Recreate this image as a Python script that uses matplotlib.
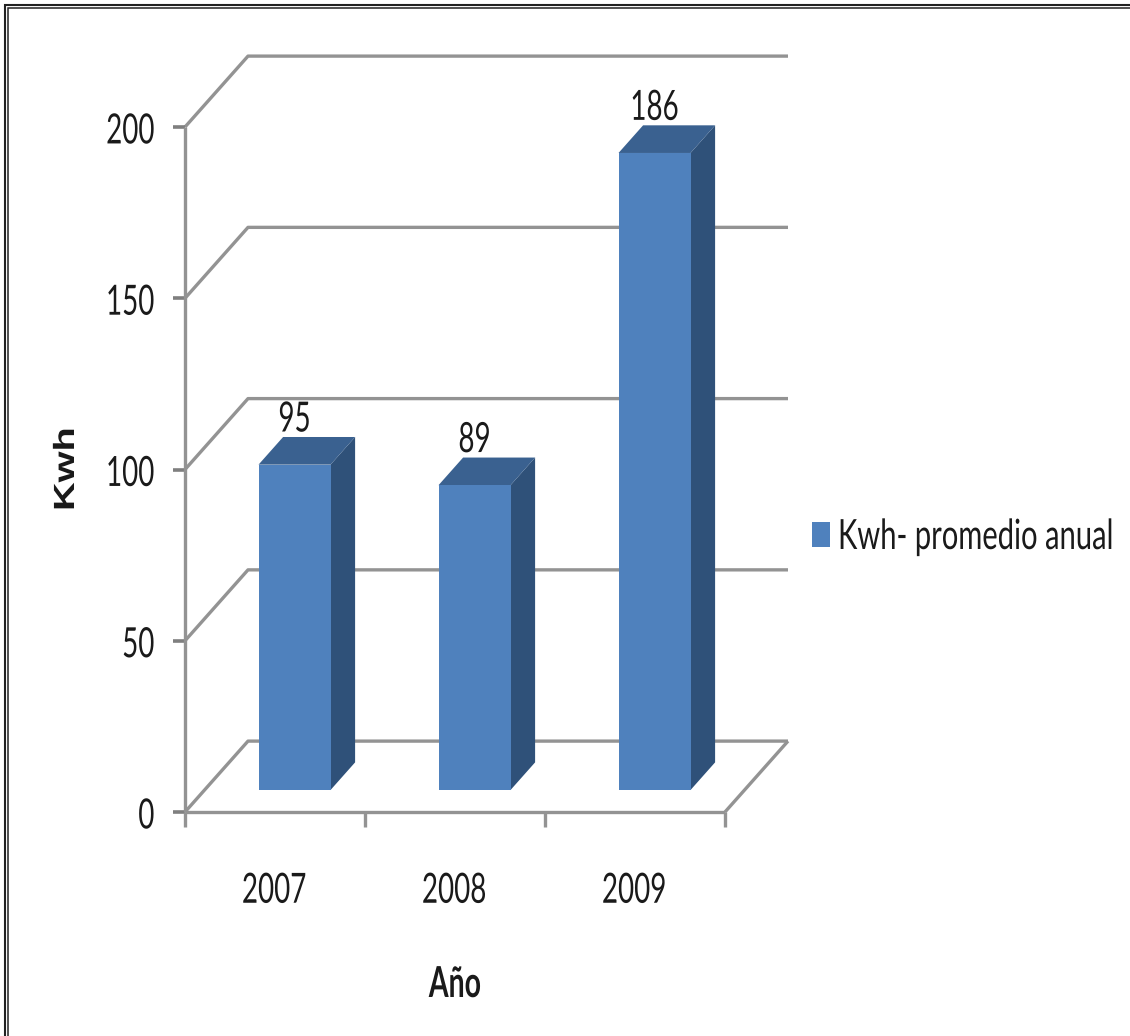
import matplotlib
matplotlib.use('Agg')
import matplotlib.pyplot as plt
from matplotlib.patches import Polygon, Rectangle
from matplotlib.patheffects import AbstractPathEffect
from matplotlib.transforms import Affine2D

years = ['2007', '2008', '2009']
kwh = [95, 89, 186]
y_ticks = [0, 50, 100, 150, 200]
legend_label = 'Kwh- promedio anual'

GRID = '#939393'
TICK = '#7f7f7f'
FRONT = '#4f81bd'
TOP = '#3a6190'
SIDE = '#2f5179'
INK = '#1a1a1a'

# depth of the fake 3d box, in data units
DEPTH_X = 0.35
DEPTH_Y = 20.7
BAR_W = 0.4
BAR_NEAR = 0.31
BAR_FAR = 0.70


class Stretch(AbstractPathEffect):
    # the picture was resized, so its letters are taller than any installed font
    def __init__(self, sx=1.0, sy=1.0):
        super().__init__()
        self.sx = sx
        self.sy = sy

    def draw_path(self, renderer, gc, tpath, affine, rgbFace=None):
        renderer.draw_path(gc, tpath, Affine2D().scale(self.sx, self.sy) + affine, rgbFace)


TALL = [Stretch(1.0, 1.5)]

W, H = 1130, 1036
fig = plt.figure(figsize=(W / 100, H / 100), dpi=100)
fig.patch.set_facecolor('white')

# outer double frame, it runs off the picture on the right and at the bottom
for x0, y0, x1, y1, lw in [(5, 5, 1140, 1046, 1.5), (8, 8, 1140, 1046, 1.1)]:
    fig.add_artist(Rectangle((x0 / W, 1 - y1 / H), (x1 - x0) / W, (y1 - y0) / H, fill=False,
                             edgecolor='#222222', linewidth=lw, transform=fig.transFigure))

ax = fig.add_axes([185 / W, 1 - 812 / H, 540 / W, 685 / H])
ax.set_xlim(0, 3)
ax.set_ylim(0, 200)
ax.patch.set_visible(False)
for s in ['top', 'right', 'bottom', 'left']:
    ax.spines[s].set_visible(False)
ax.set_xticks([])
ax.set_yticks([])


def line(xs, ys, color=GRID, lw=2.4):
    ax.plot(xs, ys, color=color, lw=lw, solid_capstyle='butt', clip_on=False, zorder=1)


def label(x, y, s, ha='center'):
    ax.text(x, y, s, ha=ha, va='baseline', fontsize=20, family='Lato', color=INK, clip_on=False,
            zorder=5, path_effects=TALL)


# walls and gridlines
for v in y_ticks:
    line([0, DEPTH_X, 3 + DEPTH_X], [v, v + DEPTH_Y, v + DEPTH_Y])
    line([-0.067, 0], [v, v], color=TICK, lw=2.6)
    label(-0.17, v - 4.8, str(v), ha='right')
line([0, 0], [0, 200])
line([0, 3], [0, 0])
line([3, 3 + DEPTH_X], [0, DEPTH_Y])
for i in range(4):
    line([i, i], [0, -4.5])

# bars
for i, (year, v) in enumerate(zip(years, kwh)):
    x0 = i + 0.5 - BAR_W / 2
    x1 = x0 + BAR_W
    bx = BAR_NEAR * DEPTH_X
    by = BAR_NEAR * DEPTH_Y
    fx = BAR_FAR * DEPTH_X
    fy = BAR_FAR * DEPTH_Y
    ax.add_patch(Polygon([(x1 + bx, by), (x1 + fx, fy), (x1 + fx, v + fy), (x1 + bx, v + by)],
                         closed=True, facecolor=SIDE, edgecolor='none', zorder=3, clip_on=False))
    ax.add_patch(Polygon([(x0 + bx, v + by), (x0 + fx, v + fy), (x1 + fx, v + fy), (x1 + bx, v + by)],
                         closed=True, facecolor=TOP, edgecolor='none', zorder=3, clip_on=False))
    ax.add_patch(Rectangle((x0 + bx, by), BAR_W, v, facecolor=FRONT, edgecolor='none', zorder=4,
                           clip_on=False))
    label(x0 + bx + BAR_W / 2, v + fy + 1.6, str(v))
    label(i + 0.495, -26.5, year)

# axis titles
fig.text(74 / W, 1 - 511 / H, 'Kwh', rotation=90, ha='left', va='baseline', rotation_mode='anchor',
         fontsize=21, fontweight='bold', family='Liberation Sans', color=INK,
         path_effects=[Stretch(1.36, 1.0)])
fig.text(455 / W, 1 - 997 / H, 'Año', ha='center', va='baseline', fontsize=20.5, fontweight='bold',
         family='Lato', color=INK, path_effects=TALL)

# legend
fig.add_artist(Rectangle((812 / W, 1 - 547 / H), 18 / W, 25 / H, facecolor=FRONT, edgecolor='none',
                         transform=fig.transFigure))
fig.text(838 / W, 1 - 549 / H, legend_label, ha='left', va='baseline', fontsize=20, family='Lato',
         color=INK, path_effects=[Stretch(1.05, 1.5)])

fig.savefig('out.png', dpi=100)
